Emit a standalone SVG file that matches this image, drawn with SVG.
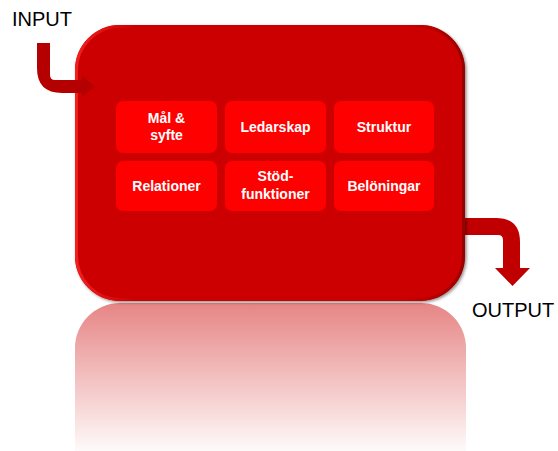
<svg xmlns="http://www.w3.org/2000/svg" width="558" height="451" viewBox="0 0 558 451">
  <defs>
    <linearGradient id="refl" x1="0" y1="303" x2="0" y2="451" gradientUnits="userSpaceOnUse">
      <stop offset="0" stop-color="#cc0000" stop-opacity="0.48"/>
      <stop offset="0.5" stop-color="#cc0000" stop-opacity="0.25"/>
      <stop offset="1" stop-color="#cc0000" stop-opacity="0.02"/>
    </linearGradient>
    <linearGradient id="edge" x1="0" y1="0" x2="1" y2="0">
      <stop offset="0" stop-color="#f02020"/>
      <stop offset="0.15" stop-color="#cc0000"/>
      <stop offset="0.85" stop-color="#cc0000"/>
      <stop offset="1" stop-color="#990000"/>
    </linearGradient>
    <filter id="shadow" x="-10%" y="-10%" width="120%" height="120%">
      <feDropShadow dx="1.5" dy="1.5" stdDeviation="1.5" flood-color="#000" flood-opacity="0.45"/>
    </filter>
  </defs>
  <style>
    .arrow { fill: #c00000; }
    .cell { fill: #ff0000; }
    .lbl { font-family: "Liberation Sans", Arial, sans-serif; font-weight: bold; font-size: 14px; fill: #ffffff; text-anchor: middle; }
    .io { font-family: "Liberation Sans", Arial, sans-serif; font-size: 20px; fill: #000000; }
  </style>

  <g id="reflection">
    <rect x="75" y="303" width="391" height="200" rx="45" fill="url(#refl)"/>
  </g>

  <g id="connectors">
    <path class="arrow" d="M455,218 H496 Q520,218 520,242 V268 H530 L512.5,286 L495,268 H503 V240 Q503,235 498,235 H455 Z"/>
  </g>

  <g id="process">
    <rect x="75" y="25" width="390" height="276" rx="45" fill="#cc0000" filter="url(#shadow)"/>
    <rect x="76.5" y="26.5" width="387" height="273" rx="43.5" fill="none" stroke="url(#edge)" stroke-width="3"/>
  </g>

  <g id="connectors-in">
    <path class="arrow" fill="#b40000" style="fill:#b40000" d="M37,43 H50 V75 Q50,80 55,80 H82 V76 L95,86.5 L82,97 V93 H62 Q37,93 37,68 Z"/>
  </g>

  <g id="input">
    <text class="io" x="12" y="26">INPUT</text>
  </g>
  <g id="output">
    <text class="io" x="472" y="317">OUTPUT</text>
  </g>

  <g id="mal-syfte">
    <rect class="cell" x="116" y="101" width="101" height="52" rx="7"/>
    <text class="lbl" x="166.5" y="123">Mål &amp;</text>
    <text class="lbl" x="166.5" y="140">syfte</text>
  </g>
  <g id="ledarskap">
    <rect class="cell" x="225" y="101" width="101" height="52" rx="7"/>
    <text class="lbl" x="275.5" y="132">Ledarskap</text>
  </g>
  <g id="struktur">
    <rect class="cell" x="334" y="101" width="100" height="52" rx="7"/>
    <text class="lbl" x="384" y="132">Struktur</text>
  </g>
  <g id="relationer">
    <rect class="cell" x="116" y="161" width="101" height="50" rx="7"/>
    <text class="lbl" x="166.5" y="191">Relationer</text>
  </g>
  <g id="stodfunktioner">
    <rect class="cell" x="225" y="161" width="101" height="50" rx="7"/>
    <text class="lbl" x="275.5" y="181">Stöd-</text>
    <text class="lbl" x="275.5" y="199">funktioner</text>
  </g>
  <g id="beloningar">
    <rect class="cell" x="334" y="161" width="100" height="50" rx="7"/>
    <text class="lbl" x="384" y="191">Belöningar</text>
  </g>
</svg>
